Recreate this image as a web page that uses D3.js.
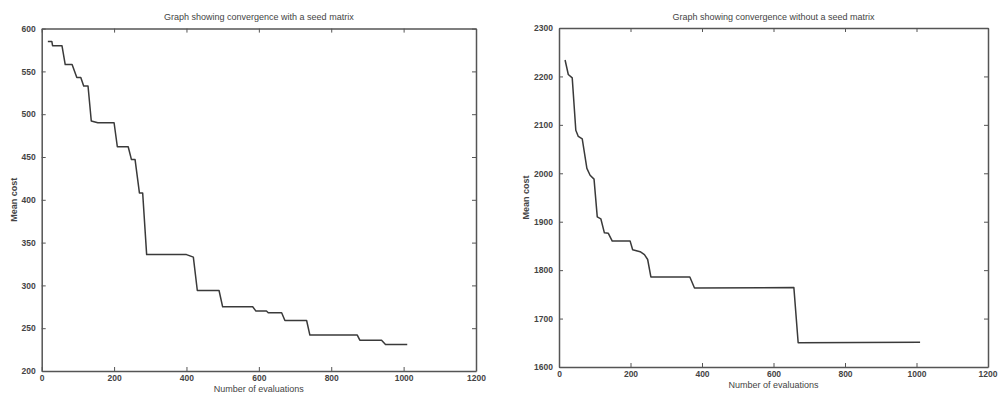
<!DOCTYPE html>
<html>
<head>
<meta charset="utf-8">
<script src="https://cdn.jsdelivr.net/npm/d3@7"></script>
<style>
  body { margin: 0; background: #fff; }
  svg text { font-family: "Liberation Sans", Arial, sans-serif; fill: #444; }
  .tick text { font-size: 8.5px; font-weight: bold; }
  .domain { stroke: #555; stroke-width: 1.5; }
  .tick line { stroke: #555; }
</style>
</head>
<body>
<div id="chart"></div>
<script>
// left graph: with seed matrix
var seedEvals = [17, 28, 30, 56, 65, 84, 97, 108, 116, 128, 137, 155, 200, 209, 239, 248, 258, 270, 279, 290, 400, 419, 430, 490, 500, 583, 592, 621, 626, 663, 672, 732, 741, 872, 879, 939, 950, 1010];
var seedCost  = [585, 585, 580, 580, 558, 558, 543, 543, 533, 533, 492, 490, 490, 462, 462, 447, 447, 408, 408, 336, 336, 333, 294, 294, 275, 275, 270, 270, 268, 268, 259, 259, 242, 242, 236, 236, 231, 231];

// right graph: without seed matrix
var noSeedEvals = [17, 26, 37, 47, 54, 65, 78, 87, 98, 107, 117, 127, 138, 149, 199, 206, 227, 239, 248, 257, 366, 379, 657, 669, 1010];
var noSeedCost  = [2234, 2204, 2197, 2089, 2076, 2071, 2010, 1996, 1988, 1910, 1906, 1877, 1876, 1860, 1860, 1842, 1838, 1832, 1822, 1786, 1786, 1763, 1764, 1650, 1651];

var xTicks = [0, 200, 400, 600, 800, 1000, 1200];
var seedYTicks = [200, 250, 300, 350, 400, 450, 500, 550, 600];
var noSeedYTicks = [1600, 1700, 1800, 1900, 2000, 2100, 2200, 2300];

var w = 998, h = 394;

var svg = d3.select("#chart")
  .append("svg")
  .attr("width", w)
  .attr("height", h);

function drawGraph(opt) {
  var xScale = d3.scaleLinear()
    .domain([0, 1200])
    .range([opt.left, opt.right]);
  var yScale = d3.scaleLinear()
    .domain(d3.extent(opt.yTicks))
    .range([opt.bottom, opt.top]);

  var g = svg.append("g");

  // ticks point inwards on all four sides, like matlab
  var xAx = g.append("g")
    .attr("transform", "translate(0," + opt.bottom + ")")
    .call(d3.axisBottom(xScale).tickValues(xTicks).tickFormat(d3.format("d"))
      .tickSizeInner(-4).tickSizeOuter(0).tickPadding(4));
  g.append("g")
    .attr("transform", "translate(0," + opt.top + ")")
    .call(d3.axisTop(xScale).tickValues(xTicks).tickSizeInner(-4).tickSizeOuter(0).tickFormat(""));
  g.append("g")
    .attr("transform", "translate(" + opt.left + ",0)")
    .call(d3.axisLeft(yScale).tickValues(opt.yTicks).tickFormat(d3.format("d"))
      .tickSizeInner(-4).tickSizeOuter(0).tickPadding(6));
  g.append("g")
    .attr("transform", "translate(" + opt.right + ",0)")
    .call(d3.axisRight(yScale).tickValues(opt.yTicks).tickSizeInner(-4).tickSizeOuter(0).tickFormat(""));

  // last label on the far right would run off the page
  if (opt.clipLast) {
    xAx.selectAll(".tick text")
      .filter(function(d) { return d == 1200; })
      .attr("text-anchor", "end")
      .attr("dx", 9);
  }

  var line = d3.line()
    .x(function(d) { return xScale(d[0]); })
    .y(function(d) { return yScale(d[1]); });

  var pts = opt.xs.map(function(x, i) { return [x, opt.ys[i]]; });

  g.append("path")
    .datum(pts)
    .attr("fill", "none")
    .attr("stroke", "#3a3a3a")
    .attr("stroke-width", 1.5)
    .attr("stroke-linejoin", "round")
    .attr("d", line);

  g.append("text")
    .attr("x", (opt.left + opt.right) / 2)
    .attr("y", 20)
    .attr("text-anchor", "middle")
    .style("font-size", "9px")
    .text(opt.title);

  g.append("text")
    .attr("x", (opt.left + opt.right) / 2)
    .attr("y", opt.bottom + 21)
    .attr("text-anchor", "middle")
    .style("font-size", "9px")
    .text("Number of evaluations");

  g.append("text")
    .attr("transform", "translate(" + opt.yLabelX + "," + ((opt.top + opt.bottom) / 2) + ") rotate(-90)")
    .attr("text-anchor", "middle")
    .style("font-size", "9px")
    .style("font-weight", "bold")
    .text("Mean cost");
}

drawGraph({
  left: 41.7, right: 476, top: 28.6, bottom: 371,
  xs: seedEvals, ys: seedCost, yTicks: seedYTicks,
  yLabelX: 17,
  title: "Graph showing convergence with a seed matrix"
});

drawGraph({
  left: 559, right: 988, top: 28, bottom: 367,
  xs: noSeedEvals, ys: noSeedCost, yTicks: noSeedYTicks,
  yLabelX: 529, clipLast: true,
  title: "Graph showing convergence without a seed matrix"
});
</script>
</body>
</html>
